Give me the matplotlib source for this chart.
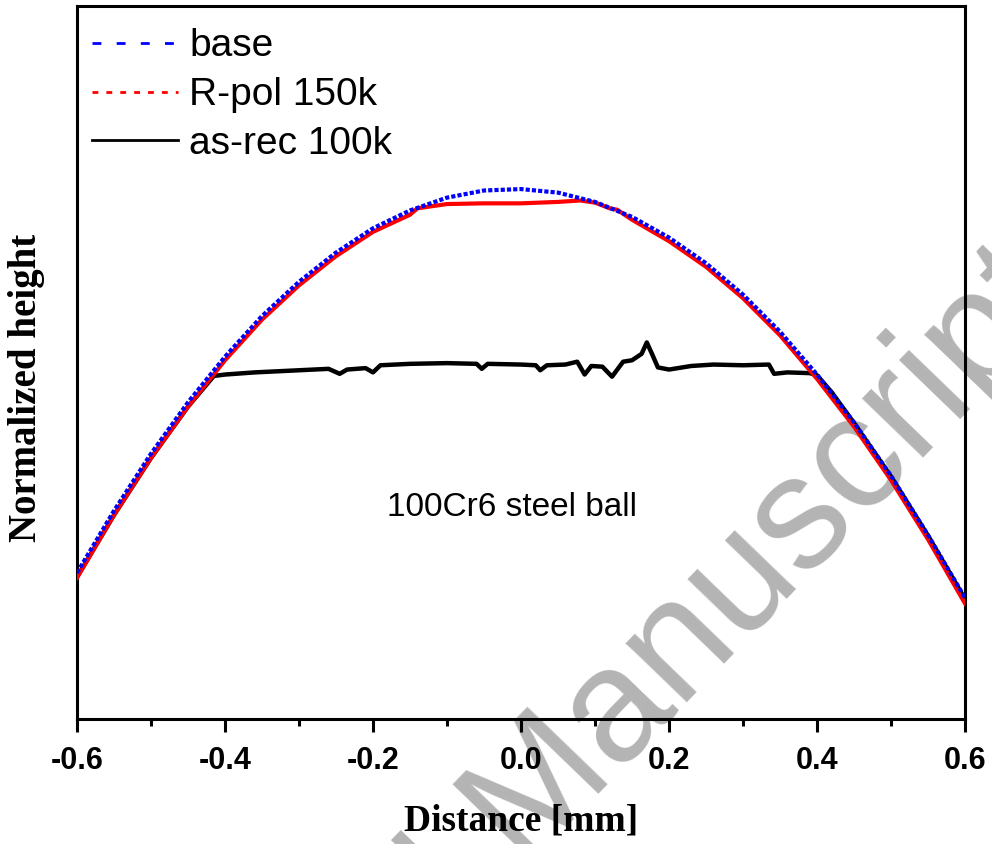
import matplotlib.pyplot as plt
from matplotlib.lines import Line2D

# profile data (normalized height, arbitrary units 0..1)
x_base = [-0.60, -0.55, -0.50, -0.45, -0.40, -0.35, -0.30, -0.25, -0.20, -0.15,
          -0.10, -0.05, 0.00, 0.05, 0.10, 0.15, 0.20, 0.25, 0.30, 0.35,
          0.40, 0.45, 0.50, 0.55, 0.60]
h_base = [0.205, 0.292, 0.372, 0.444, 0.508, 0.565, 0.613, 0.654, 0.688, 0.713,
          0.731, 0.741, 0.743, 0.738, 0.725, 0.704, 0.675, 0.639, 0.595, 0.543,
          0.483, 0.416, 0.341, 0.258, 0.170]

x_rpol = [-0.60, -0.55, -0.50, -0.45, -0.40, -0.35, -0.30, -0.25, -0.20, -0.15,
          -0.14, -0.10, -0.05, 0.00, 0.05, 0.08, 0.10, 0.12, 0.13, 0.15,
          0.20, 0.25, 0.30, 0.35, 0.40, 0.45, 0.50, 0.55, 0.60]
h_rpol = [0.198, 0.286, 0.366, 0.438, 0.503, 0.560, 0.608, 0.649, 0.683, 0.707,
          0.716, 0.722, 0.723, 0.723, 0.725, 0.727, 0.724, 0.716, 0.714, 0.700,
          0.670, 0.634, 0.590, 0.538, 0.477, 0.410, 0.335, 0.252, 0.162]

x_asrec = [-0.60, -0.55, -0.50, -0.45, -0.415, -0.40, -0.36, -0.30, -0.26, -0.245,
           -0.235, -0.21, -0.20, -0.19, -0.15, -0.10, -0.06, -0.053, -0.045, 0.00,
           0.02, 0.026, 0.035, 0.06, 0.076, 0.086, 0.095, 0.11, 0.123, 0.138,
           0.15, 0.163, 0.170, 0.177, 0.185, 0.20, 0.23, 0.26, 0.30, 0.335,
           0.342, 0.36, 0.39, 0.40, 0.42, 0.45, 0.50, 0.55, 0.60]
h_asrec = [0.199, 0.286, 0.366, 0.438, 0.481, 0.483, 0.486, 0.489, 0.491, 0.484,
           0.490, 0.492, 0.486, 0.496, 0.498, 0.499, 0.498, 0.491, 0.498, 0.497,
           0.496, 0.489, 0.496, 0.497, 0.501, 0.483, 0.495, 0.494, 0.480, 0.501,
           0.503, 0.512, 0.528, 0.512, 0.493, 0.490, 0.495, 0.497, 0.496, 0.497,
           0.484, 0.486, 0.485, 0.482, 0.458, 0.415, 0.340, 0.257, 0.168]

xticks = [-0.6, -0.4, -0.2, 0.0, 0.2, 0.4, 0.6]
xminor = [-0.5, -0.3, -0.1, 0.1, 0.3, 0.5]
xticklabels = ["-0.6", "-0.4", "-0.2", "0.0", "0.2", "0.4", "0.6"]
labels = ["base", "R-pol 150k", "as-rec 100k"]

fig = plt.figure(figsize=(9.92, 8.44), dpi=100)
ax = fig.add_axes([0.0776, 0.148, 0.8952, 0.8452])
ax.patch.set_visible(False)

# watermark behind everything, "Accepted " runs off the bottom-left corner
fig.text(0.027, -0.643, "Accepted Manuscript", fontsize=116, family="Liberation Sans",
         color="#b4b4b4", rotation=46, rotation_mode="anchor",
         ha="left", va="baseline", zorder=-1)

ax.plot(x_asrec, h_asrec, color="black", lw=3.2, zorder=2)
ax.plot(x_rpol, h_rpol, color="red", lw=3.0, zorder=3)
ax.plot(x_base, h_base, color="blue", lw=3.0, ls=(0, (1.0, 0.5)), zorder=4)

ax.set_xlim(-0.6, 0.6)
ax.set_ylim(0, 1)
ax.set_xticks(xticks)
ax.set_xticks(xminor, minor=True)
ax.set_yticks([])
ax.tick_params(axis="x", which="major", length=9.5, width=2.2, direction="out", pad=10)
ax.tick_params(axis="x", which="minor", length=5, width=2.2, direction="out")
for s in ax.spines.values():
    s.set_linewidth(2.2)

ax.set_xticklabels(xticklabels, fontsize=22, fontweight="bold", family="Liberation Sans")

ax.set_xlabel("Distance [mm]", fontsize=27, fontweight="bold", family="Liberation Serif")
ax.xaxis.set_label_coords(0.5, -0.118)
ax.set_ylabel("Normalized height", fontsize=28, fontweight="bold", family="Liberation Serif")
ax.yaxis.set_label_coords(-0.036, 0.464)

ax.text(-0.012, 0.296, "100Cr6 steel ball", fontsize=24, family="Liberation Sans",
        ha="center", va="center")

handles = [
    Line2D([], [], color="blue", lw=2.0, ls=(0, (3.2, 5.5))),
    Line2D([], [], color="red", lw=2.0, ls=(0, (2.1, 2.9))),
    Line2D([], [], color="black", lw=2.0),
]
ax.legend(handles, labels, loc="upper left", bbox_to_anchor=(-0.0005, 0.99),
          frameon=False, prop={"family": "Liberation Sans", "size": 28},
          handlelength=2.2, handletextpad=0.3, labelspacing=0.33, borderaxespad=0)

fig.savefig("out.png", dpi=100)
